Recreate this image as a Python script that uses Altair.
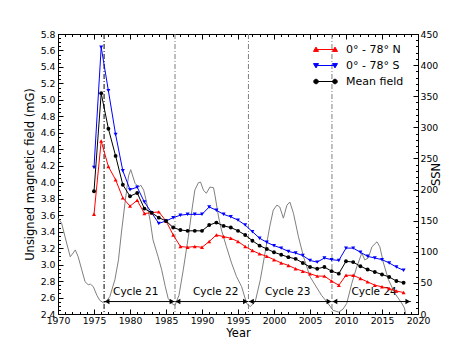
import altair as alt
import pandas as pd
import numpy as np

# ---------------- data ----------------
years = list(range(1975, 2019))
north = [3.61, 4.50, 4.19, 4.03, 3.81, 3.71, 3.78, 3.62, 3.63, 3.64,
         3.53, 3.36, 3.22, 3.21, 3.22, 3.21, 3.28, 3.36, 3.34, 3.32,
         3.28, 3.22, 3.17, 3.13, 3.10, 3.06, 3.02, 2.99, 2.95, 2.92,
         2.89, 2.86, 2.86, 2.80, 2.75, 2.87, 2.87, 2.83, 2.79, 2.75,
         2.73, 2.71, 2.68, 2.66]
south = [4.18, 5.64, 5.11, 4.58, 4.14, 3.91, 3.94, 3.76, 3.63, 3.50,
         3.53, 3.57, 3.60, 3.61, 3.61, 3.61, 3.70, 3.66, 3.61, 3.58,
         3.54, 3.48, 3.40, 3.32, 3.27, 3.23, 3.20, 3.16, 3.14, 3.11,
         3.05, 3.03, 3.08, 3.06, 3.05, 3.20, 3.20, 3.15, 3.10, 3.08,
         3.06, 3.02, 2.97, 2.93]
mean = [3.89, 5.08, 4.65, 4.32, 3.97, 3.83, 3.87, 3.68, 3.63, 3.57,
        3.53, 3.45, 3.42, 3.41, 3.41, 3.41, 3.48, 3.51, 3.47, 3.45,
        3.41, 3.36, 3.29, 3.23, 3.19, 3.15, 3.12, 3.09, 3.07, 3.02,
        2.97, 2.95, 2.97, 2.92, 2.89, 3.04, 3.03, 2.98, 2.94, 2.91,
        2.88, 2.85, 2.80, 2.78]

ssn_time = [1970.0, 1970.5, 1971.2, 1971.7, 1972.1, 1972.4, 1972.8, 1973.3,
            1973.75, 1974.2, 1974.5, 1974.9, 1975.4, 1975.8, 1976.3, 1976.7,
            1977.2, 1977.9, 1978.4, 1978.8, 1979.3, 1979.8, 1980.1, 1980.7,
            1981.2, 1981.5, 1981.9, 1982.3, 1982.8, 1983.2, 1983.9, 1984.4,
            1984.9, 1985.3, 1985.8, 1986.25, 1986.8, 1987.4, 1988.1, 1988.6,
            1989.0, 1989.5, 1989.8, 1990.2, 1990.6, 1991.1, 1991.6, 1991.8,
            1992.3, 1992.7, 1993.4, 1994.1, 1994.8, 1995.5, 1996.2, 1996.7,
            1997.4, 1998.1, 1998.75, 1999.4, 1999.9, 2000.4, 2000.8, 2001.3,
            2001.8, 2002.2, 2002.7, 2003.4, 2004.1, 2005.0, 2005.8, 2006.6,
            2007.3, 2008.2, 2009.0, 2009.6, 2010.1, 2010.8, 2011.5, 2012.2,
            2012.6, 2013.1, 2013.6, 2014.3, 2014.7, 2015.2, 2015.9, 2016.8,
            2017.7, 2018.1, 2018.3]
ssn_value = [154, 146, 114, 92, 98, 103, 92, 71,
             52, 47, 48, 44, 30, 22, 18, 20,
             28, 55, 87, 130, 178, 222, 232, 210,
             204, 207, 199, 180, 150, 119, 92, 71,
             44, 25, 17, 14, 30, 71, 124, 167,
             199, 211, 212, 199, 194, 204, 203, 191,
             156, 135, 108, 82, 60, 44, 17, 12,
             20, 55, 98, 140, 167, 175, 172, 154,
             175, 180, 162, 124, 92, 60, 45, 30,
             20, 6, 3, 8, 17, 49, 76, 98,
             87, 90, 108, 116, 108, 82, 55, 33,
             18, 10, 0]

cycle_names = ["Cycle 21", "Cycle 22", "Cycle 23", "Cycle 24"]
cycle_start = [1976.4, 1986.25, 1996.45, 2008.05]
cycle_end = [1986.25, 1996.45, 2008.05, 2019.0]
cycle_label_x = [1980.8, 1991.9, 2001.9, 2013.9]
arrow_level = [20, 20, 20, 20]
label_level = [35, 35, 35, 35]
first_min = [1976.4]
other_mins = [1986.25, 1996.45, 2008.05]

series_names = ["0\u00b0 - 78\u00b0 N", "0\u00b0 - 78\u00b0 S", "Mean field"]

x_ticks = [1970, 1975, 1980, 1985, 1990, 1995, 2000, 2005, 2010, 2015, 2020]
x_minor = list(range(1970, 2021))
y_ticks = [2.4, 2.6, 2.8, 3.0, 3.2, 3.4, 3.6, 3.8, 4.0, 4.2, 4.4, 4.6, 4.8,
           5.0, 5.2, 5.4, 5.6, 5.8]
y_minor = [round(v, 2) for v in np.arange(2.4, 5.8001, 0.05)]
ssn_ticks = [0, 50, 100, 150, 200, 250, 300, 350, 400, 450]
ssn_minor = list(range(0, 451, 10))

# ---------------- frames ----------------
field_df = pd.DataFrame({"year": years, "north": north, "south": south, "mean": mean})
ssn_df = pd.DataFrame({"t": ssn_time, "ssn": ssn_value})
cyc_df = pd.DataFrame({"name": cycle_names, "start": cycle_start, "end": cycle_end,
                       "lx": cycle_label_x, "ay": arrow_level, "ly": label_level})
first_df = pd.DataFrame({"t": first_min})
other_df = pd.DataFrame({"t": other_mins})
legend_df = pd.DataFrame({"series": series_names, "year": [1975] * 3, "value": [3.0] * 3})

FONT = "DejaVu Sans"
RED = "#ff0000"
BLUE = "#0000ff"
BLACK = "#000000"

x_scale = alt.Scale(domain=[1970, 2020], nice=False, zero=False)
mag_scale = alt.Scale(domain=[2.4, 5.8], nice=False, zero=False)
ssn_scale = alt.Scale(domain=[0, 450], nice=False, zero=False)

MAJ = 5
MIN = 2.5
TICKFS = 9.3


def tick_axis(orient, values, size):
    return alt.Axis(orient=orient, values=values, labels=False, domain=False, grid=False,
                    ticks=True, tickSize=size, offset=-size, tickColor=BLACK,
                    tickWidth=1, title=None)


bottom_major = alt.Axis(orient="bottom", values=x_ticks, format="d", domain=False, grid=False,
                        tickSize=MAJ, offset=-MAJ, tickColor=BLACK, labelFont=FONT,
                        labelFontSize=TICKFS, labelColor=BLACK, labelPadding=2,
                        labelOverlap=False, labelFlush=False, labelBound=False,
                        title="Year", titleFont=FONT, titleFontSize=11.5,
                        titleFontWeight="normal", titleColor=BLACK, titlePadding=2)
left_major = alt.Axis(orient="left", values=y_ticks, format=".1f", domain=False, grid=False,
                      tickSize=MAJ, offset=-MAJ, tickColor=BLACK, labelFont=FONT,
                      labelFontSize=TICKFS, labelColor=BLACK, labelPadding=3,
                      labelOverlap=False, labelFlush=False, labelBound=False,
                      title="Unsigned magnetic field (mG)", titleFont=FONT,
                      titleFontSize=11.5, titleFontWeight="normal", titleColor=BLACK,
                      titlePadding=5)
right_major = alt.Axis(orient="right", values=ssn_ticks, format="d", domain=False, grid=False,
                       tickSize=MAJ, offset=-MAJ, tickColor=BLACK, labelFont=FONT,
                       labelFontSize=TICKFS, labelColor=BLACK, labelPadding=2,
                       labelOverlap=False, labelFlush=False, labelBound=False,
                       title="SSN", titleFont=FONT, titleFontSize=11.5,
                       titleFontWeight="normal", titleColor=BLACK, titlePadding=4,
                       titleAngle=270)

base_f = alt.Chart(field_df)


def series_layers(col, color, shape, size, xa_line, ya_line, xa_pt, ya_pt):
    line = base_f.mark_line(color=color, strokeWidth=1).encode(
        x=alt.X("year:Q", scale=x_scale, axis=xa_line),
        y=alt.Y(f"{col}:Q", scale=mag_scale, axis=ya_line),
    )
    pts = base_f.mark_point(color=color, filled=True, shape=shape, size=size, opacity=1).encode(
        x=alt.X("year:Q", scale=x_scale, axis=xa_pt),
        y=alt.Y(f"{col}:Q", scale=mag_scale, axis=ya_pt),
    )
    return [line, pts]


red_l = series_layers("north", RED, "triangle-up", 16,
                      bottom_major, left_major,
                      tick_axis("bottom", x_minor, MIN), tick_axis("left", y_minor, MIN))
blue_l = series_layers("south", BLUE, "triangle-down", 16,
                       tick_axis("top", x_ticks, MAJ), None,
                       tick_axis("top", x_minor, MIN), None)
black_l = series_layers("mean", BLACK, "circle", 15, None, None, None, None)

# legend (built by Vega from explicit scale domains)
path_n = ("M-1.58,0L1.58,0M-1.58,-0.4L-1.16,0.32L-2.0,0.32Z"
          "M1.58,-0.4L2.0,0.32L1.16,0.32Z")
path_s = ("M-1.58,0L1.58,0M-1.58,0.4L-2.0,-0.32L-1.16,-0.32Z"
          "M1.58,0.4L1.16,-0.32L2.0,-0.32Z")
path_m = ("M-1.58,0L1.58,0M-1.2,0A0.38,0.38 0 1,1 -1.96,0A0.38,0.38 0 1,1 -1.2,0Z"
          "M1.96,0A0.38,0.38 0 1,1 1.2,0A0.38,0.38 0 1,1 1.96,0Z")

leg = alt.Legend(title=None, orient="none", legendX=261, legendY=9, labelFont=FONT,
                 labelFontSize=11, labelColor=BLACK, symbolSize=144, symbolStrokeWidth=1,
                 symbolOpacity=1, labelOffset=14, rowPadding=4, padding=0)
legend_layer = alt.Chart(legend_df).transform_filter("false").mark_point(
    filled=True, strokeWidth=1).encode(
    x=alt.X("year:Q", scale=x_scale, axis=None),
    y=alt.Y("value:Q", scale=mag_scale, axis=None),
    fill=alt.Fill("series:N", scale=alt.Scale(domain=series_names, range=[RED, BLUE, BLACK]),
                  legend=leg),
    stroke=alt.Stroke("series:N", scale=alt.Scale(domain=series_names, range=[RED, BLUE, BLACK]),
                      legend=leg),
    shape=alt.Shape("series:N", scale=alt.Scale(domain=series_names, range=[path_n, path_s, path_m]),
                    legend=leg),
)

mag_group = alt.layer(*red_l, *blue_l, *black_l, legend_layer).resolve_axis(
    x="independent", y="independent")

# ---------------- SSN group ----------------
ssn_line = alt.Chart(ssn_df).mark_line(color="#808080", strokeWidth=1).encode(
    x=alt.X("t:Q", scale=x_scale, axis=None),
    y=alt.Y("ssn:Q", scale=ssn_scale, axis=right_major),
)
cyc = alt.Chart(cyc_df)
arrow_rule = cyc.mark_rule(color=BLACK, strokeWidth=1).encode(
    x=alt.X("start:Q", scale=x_scale, axis=None),
    x2="end:Q",
    y=alt.Y("ay:Q", scale=ssn_scale, axis=tick_axis("right", ssn_minor, MIN)),
)
head_l = cyc.mark_point(shape="triangle-left", filled=True, color=BLACK, size=30, opacity=1,
                        xOffset=3).encode(
    x=alt.X("start:Q", scale=x_scale, axis=None),
    y=alt.Y("ay:Q", scale=ssn_scale, axis=None),
)
head_r = cyc.mark_point(shape="triangle-right", filled=True, color=BLACK, size=30, opacity=1,
                        xOffset=-3).encode(
    x=alt.X("end:Q", scale=x_scale, axis=None),
    y=alt.Y("ay:Q", scale=ssn_scale, axis=None),
)
cyc_text = cyc.mark_text(font=FONT, fontSize=10.5, color=BLACK, align="center",
                         baseline="middle").encode(
    x=alt.X("lx:Q", scale=x_scale, axis=None),
    y=alt.Y("ly:Q", scale=ssn_scale, axis=None),
    text="name:N",
)
vr_first = alt.Chart(first_df).mark_rule(color=BLACK, strokeWidth=1,
                                         strokeDash=[5, 2, 1, 2]).encode(
    x=alt.X("t:Q", scale=x_scale, axis=None),
)
vr_other = alt.Chart(other_df).mark_rule(color="#7f7f7f", strokeWidth=1,
                                         strokeDash=[5, 2, 1, 2]).encode(
    x=alt.X("t:Q", scale=x_scale, axis=None),
)

ssn_group = alt.layer(ssn_line, arrow_rule, vr_first, vr_other, head_l, head_r,
                      cyc_text).resolve_axis(x="independent", y="independent")

chart = alt.layer(ssn_group, mag_group).resolve_scale(y="independent").resolve_axis(
    x="independent", y="independent").properties(
    width=360, height=280,
    autosize=alt.AutoSizeParams(type="none"),
    padding={"left": 50, "top": 26, "right": 39, "bottom": 27},
    background="white",
).configure_view(stroke=BLACK, strokeWidth=1)

chart.save("out.html", embed_options={"renderer": "svg", "actions": False})
